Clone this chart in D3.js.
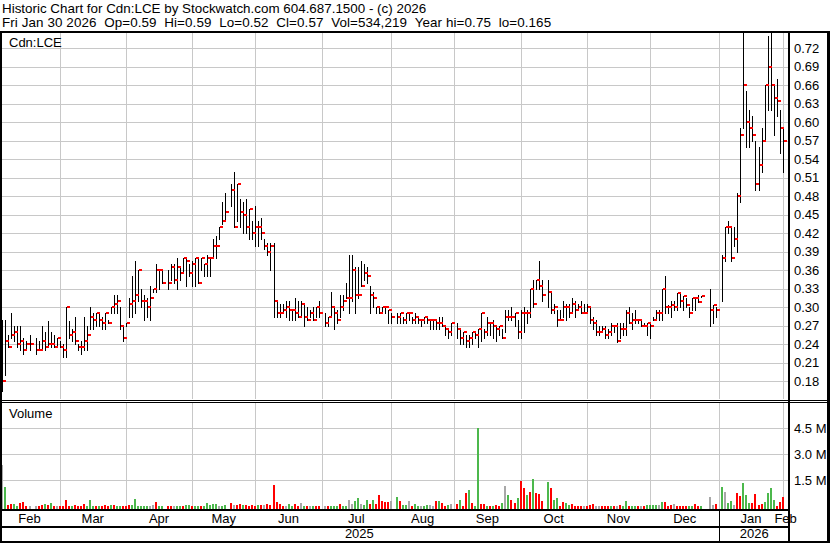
<!DOCTYPE html>
<html><head><meta charset="utf-8">
<script src="https://cdn.jsdelivr.net/npm/d3@7"></script>
<style>
html,body{margin:0;padding:0;background:#fff;}
svg{display:block;font-family:"Liberation Sans",Arial,sans-serif;}
</style></head><body>
<svg id="c" width="830" height="543"></svg>
<script>
// ---- categories: weekday index 0 = Mon Feb 3 2025 ... 259 = Fri Jan 30 2026 (null = no trading)
const monthLabels = ["Feb","Mar","Apr","May","Jun","Jul","Aug","Sep","Oct","Nov","Dec","Jan","Feb"];
const monthStartIdx = [-1,19,41,63,84,106,129,150,172,194,215,238,259];
const yearLabels = ["2025","2026"];
const yearStartIdx = [-1,238];
const priceTicks = [0.18,0.21,0.24,0.27,0.30,0.33,0.36,0.39,0.42,0.45,0.48,0.51,0.54,0.57,0.60,0.63,0.66,0.69,0.72];
const volumeTicks = [1.5e6,3.0e6,4.5e6];
const headerLine1 = "Historic Chart for Cdn:LCE by Stockwatch.com 604.687.1500 - (c) 2026";
const headerFields2 = ["Fri Jan 30 2026","Op=0.59","Hi=0.59","Lo=0.52","Cl=0.57","Vol=534,219","Year hi=0.75","lo=0.165"];

const high = [
 .28,.28,.255,.29,.27,.27,.27,.25,.245,.255,null,.25,.245,.27,.26,.277,.26,.255,.25,.245,
 .24,.30,.277,.265,.285,.24,.245,.285,.27,.30,.29,.29,.29,.285,.29,.28,.30,.32,.32,.30,.27,
 .275,.315,.35,.375,.36,.33,.32,.315,.335,.33,.37,.36,.36,null,.36,.37,.37,.38,.365,.38,.38,.37,
 .375,.38,.38,.38,.37,.385,.38,.41,.415,.43,.47,.485,null,.50,.52,.50,.475,.47,.475,.46,.44,.465,
 .44,.445,.41,.405,.405,.405,.31,.305,.305,.31,.31,.295,.315,.31,.31,.305,.30,.295,.30,.30,.31,
 null,.29,.285,.325,.30,.295,.32,.32,.34,.385,.385,.365,.365,.375,.37,.365,.335,.325,.30,.30,.30,.30,.295,
 .29,null,.29,.29,.285,.29,.29,.285,.29,.285,.28,.285,.285,.28,.28,.28,.285,.285,.27,.265,.275,
 null,.275,.265,.26,.255,.255,.26,.26,.265,.29,.265,.285,.275,.28,.27,.27,.265,.295,.295,.30,.29,.28,
 .295,.30,.295,.33,.345,.345,.375,.345,null,.345,.325,.305,.295,.295,.31,.305,.305,.315,.31,.305,.31,.305,.305,
 .30,.285,.28,.27,.27,.27,.265,.275,.27,.275,.275,.275,.296,.30,.29,.296,.28,.28,.275,.275,
 .275,.285,.296,.296,.33,.35,.304,.31,.31,.324,.324,.318,.315,.301,.315,.315,.32,.318,null,null,.329,.304,.30,
 null,.385,.43,.44,.43,.43,.485,.59,.75,.65,.62,.61,.57,.56,.59,.66,.74,.75,.66,.67,.62,.59
];
const low = [
 .165,.19,.235,.25,.245,.235,.23,.225,.23,.23,null,.225,.23,.23,.23,.235,.235,.235,.235,.235,
 .22,.22,.25,.245,.24,.23,.225,.23,.23,.265,.265,.27,.27,.265,.265,.275,.29,.29,.29,.265,.245,
 .27,.285,.285,.29,.31,.30,.28,.285,.28,.325,.325,.33,.34,null,.33,.345,.34,.33,.345,.355,.335,.35,
 .335,.335,.34,.36,.35,.35,.35,.38,.38,.41,.435,.44,null,.465,.43,.44,.43,.42,.42,.41,.41,.40,
 .40,.41,.395,.385,.36,.285,.285,.285,.29,.285,.28,.28,.28,.285,.285,.27,.28,.285,.28,.285,.285,
 null,.27,.27,.285,.265,.275,.285,.295,.315,.29,.31,.29,.315,.335,.345,.34,.29,.30,.29,.29,.29,.29,.275,
 .275,null,.275,.275,.275,.275,.28,.275,.275,.275,.27,.275,.275,.265,.265,.265,.265,.27,.255,.25,.255,
 null,.25,.24,.24,.235,.235,.24,.25,.235,.245,.25,.255,.255,.25,.245,.255,.25,.26,.28,.28,.27,.25,
 .25,.26,.275,.285,.30,.33,.33,.31,null,.30,.29,.29,.27,.28,.285,.28,.285,.29,.285,.295,.29,.29,.29,
 .275,.265,.255,.255,.26,.25,.25,.255,.26,.243,.25,.255,.255,.275,.265,.275,.275,.27,.27,.255,
 .25,.28,.28,.28,.28,.29,.29,.285,.296,.296,.30,.296,.301,.285,.296,.296,.309,.318,null,null,.27,.275,.285,
 null,.31,.375,.42,.375,.40,.39,.47,.59,.56,.56,.57,.49,.49,.52,.57,.62,.62,.58,.61,.55,.52
];
const close = [
 .18,.245,.235,.255,.26,.24,.245,.23,.24,.24,null,.23,.23,.245,.235,.24,.24,.235,.25,.235,
 .23,.30,.255,.26,.245,.235,.235,.245,.255,.285,.28,.29,.28,.275,.29,.275,.30,.305,.31,.27,.25,
 .275,.305,.31,.32,.36,.31,.31,.30,.315,.33,.36,.36,.34,null,.34,.365,.345,.365,.355,.38,.375,.355,
 .37,.38,.34,.38,.37,.38,.38,.40,.40,.43,.44,.455,null,.49,.43,.50,.455,.45,.43,.46,.42,.43,
 .43,.42,.40,.39,.40,.31,.29,.29,.295,.30,.295,.295,.29,.285,.305,.285,.28,.29,.28,.30,.29,
 null,.275,.285,.30,.29,.28,.30,.31,.315,.315,.36,.32,.32,.335,.355,.35,.32,.315,.30,.29,.30,.30,.295,
 .285,null,.285,.29,.28,.29,.29,.28,.285,.28,.28,.285,.28,.28,.28,.275,.275,.27,.265,.26,.275,
 null,.265,.25,.26,.245,.25,.26,.255,.265,.29,.26,.275,.275,.27,.265,.27,.25,.285,.285,.285,.29,.26,
 .29,.29,.29,.33,.305,.345,.335,.32,null,.325,.295,.30,.28,.28,.30,.30,.29,.305,.295,.30,.29,.29,.30,
 .28,.275,.26,.26,.265,.255,.26,.27,.27,.245,.265,.265,.29,.275,.28,.28,.28,.27,.27,.275,
 .27,.28,.29,.29,.329,.30,.30,.304,.30,.324,.31,.318,.304,.29,.315,.315,.309,.318,null,null,.295,.304,.295,
 null,.38,.43,.43,.38,.41,.48,.58,.66,.60,.59,.58,.50,.53,.57,.66,.69,.66,.64,.635,.59,.57
];
// volume in millions of shares
const volumeM = [
 2.39,1.14,.075,.11,.13,.03,.21,.25,.01,.01,null,.02,.01,.075,.13,.075,.19,.03,.02,.01,
 .005,.36,.02,.02,.075,.03,.03,.13,.03,.36,.02,.01,.005,.01,.075,.02,.075,.075,.03,.02,.01,
 .02,.075,.075,.42,.03,.005,.03,.005,.03,.075,.25,.005,.005,null,.02,.02,.02,.03,.03,.02,.075,.075,
 .005,.02,.03,.02,.03,.19,.05,.13,.16,.02,.03,.075,null,.19,.075,.075,.11,.075,.075,.03,.075,.03,
 .075,.075,.075,.11,.075,1.23,.23,.13,.01,.01,.11,.005,.11,.01,.17,.01,.005,.005,.01,.01,.01,
 null,.02,.01,.01,.01,.02,.13,.01,.02,.36,.13,.30,.48,.13,.075,.36,.13,.36,.13,.65,.30,.25,.25,
 .30,null,.54,.30,.075,.075,.30,.02,.13,.01,.01,.02,.075,.075,.02,.30,.30,.19,.01,.075,.13,
 null,.13,.36,.02,.77,.94,.19,.01,4.5,.13,.13,.01,.01,.02,.075,.02,.19,1.17,.65,.36,.19,.48,
 1.46,1.06,.65,.83,1.58,.77,.71,.30,null,1.39,1.06,.36,.48,.02,.25,.19,.075,.13,.01,.01,.02,.005,.02,
 .075,.13,.005,.01,.005,.02,.01,.02,.01,.01,.075,.01,.30,.01,.02,.01,.01,.01,.005,.075,
 .075,.075,.075,.075,.25,.25,.01,.075,.13,.01,.005,.01,.01,.01,.01,.13,.01,.005,null,null,.54,.075,.13,
 null,1.12,.83,.19,.30,.075,.77,.60,1.35,.65,.19,.19,.71,.075,.13,.25,.77,1.06,.36,.02,.25,.534
];
// volume colour code: u = up, d = down, n = unchanged
const volumeDir = (
 "nudduudddnn-ddududnddd" +
 "dudddduuududdduduuddd" +
 "uuuuuunnduuudd-uuduuduu" +
 "duuuuunuuud-dduddddudn" +
 "ddddddnuuddnudnuddd" +
 "-duuuduunnuunuududddd" +
 "d-uuduunduunuunnduddu" +
 "-ddudduduuddududdunudd" +
 "uddududdd-uduudduuddddnd" +
 "ddnndddudnduuduudndu" +
 "uuunudddndddduudduun--duu" +
 "-uundduuudddduuuudddd"
).split("");

// ---- layout
const W = 830, H = 543;
const L = 2, R = 788, priceTop = 33, priceBot = 399, volTop = 402, volBot = 509;
const svg = d3.select("#c");
svg.append("rect").attr("width", W).attr("height", H).attr("fill", "#fff");

const x = d3.scaleLinear().domain([0, 259]).range([2.4, 782.6]);
const yP = d3.scaleLinear().domain([0.18, 0.72]).range([381.3, 48.3]);
const yV = d3.scaleLinear().domain([0, 4.5e6]).range([506.3, 428.3]);

const idx = d3.range(high.length);
const gridColor = "#c8c8c8";

const defs = svg.append("defs");
defs.append("clipPath").attr("id", "pclip").append("rect")
  .attr("x", L).attr("y", priceTop).attr("width", R - L).attr("height", priceBot - priceTop);
defs.append("clipPath").attr("id", "vclip").append("rect")
  .attr("x", L).attr("y", volTop).attr("width", R - L).attr("height", volBot - volTop);

const crisp = v => Math.round(v) + 0.5;

// grid: price
const gP = svg.append("g").attr("clip-path", "url(#pclip)").attr("shape-rendering", "crispEdges");
gP.selectAll("line.h").data(priceTicks).join("line")
  .attr("x1", L).attr("x2", R).attr("y1", d => crisp(yP(d))).attr("y2", d => crisp(yP(d)))
  .attr("stroke", gridColor);
gP.selectAll("line.v").data(monthStartIdx.slice(1)).join("line").attr("class","v")
  .attr("x1", d => crisp(x(d))).attr("x2", d => crisp(x(d)))
  .attr("y1", priceTop).attr("y2", priceBot).attr("stroke", gridColor);

// grid: volume
const gV = svg.append("g").attr("clip-path", "url(#vclip)").attr("shape-rendering", "crispEdges");
gV.selectAll("line.h").data(volumeTicks).join("line")
  .attr("x1", L).attr("x2", R).attr("y1", d => crisp(yV(d))).attr("y2", d => crisp(yV(d)))
  .attr("stroke", gridColor);
gV.selectAll("line.v").data(monthStartIdx.slice(1)).join("line").attr("class","v")
  .attr("x1", d => crisp(x(d))).attr("x2", d => crisp(x(d)))
  .attr("y1", volTop).attr("y2", volBot).attr("stroke", gridColor);

// price bars (high-low line + red close tick)
const traded = idx.filter(i => high[i] != null);
gP.selectAll("line.bar").data(traded).join("line").attr("class", "bar")
  .attr("x1", i => crisp(x(i))).attr("x2", i => crisp(x(i)))
  .attr("y1", i => Math.round(yP(high[i])))
  .attr("y2", i => Math.max(Math.round(yP(low[i])), Math.round(yP(high[i])) + 1) + 1)
  .attr("stroke", "#000");
gP.selectAll("rect.cl").data(traded).join("rect").attr("class", "cl")
  .attr("x", i => Math.round(x(i)) + 1).attr("y", i => Math.round(yP(close[i])) - 1)
  .attr("width", 3).attr("height", 2).attr("fill", "#ff0000");

// volume bars
const volColor = { u: "#4cb84c", d: "#ff0000", n: "#a8a8a8" };
gV.selectAll("rect.vb").data(idx.filter(i => volumeM[i] != null)).join("rect").attr("class", "vb")
  .attr("x", i => Math.round(x(i)) - 1)
  .attr("y", i => Math.round(yV(volumeM[i] * 1e6)))
  .attr("width", 2)
  .attr("height", i => volBot - Math.round(yV(volumeM[i] * 1e6)))
  .attr("fill", i => volColor[volumeDir[i]] || volColor.n);

// axes
const fontSize = 13;
const pAxis = svg.append("g").attr("transform", `translate(${R + 4},0)`)
  .call(d3.axisRight(yP).tickValues(priceTicks).tickSize(0).tickPadding(2).tickFormat(d3.format(".2f")));
const vAxis = svg.append("g").attr("transform", `translate(${R + 4},0)`)
  .call(d3.axisRight(yV).tickValues(volumeTicks).tickSize(0).tickPadding(2).tickFormat(d => (d / 1e6).toFixed(1) + " M"));
[pAxis, vAxis].forEach(g => {
  g.select(".domain").remove();
  g.selectAll("text").attr("fill", "#000").style("font-size", fontSize + "px")
    .style("font-family", '"Liberation Sans",Arial,sans-serif');
});

// month labels
const monthCenters = monthStartIdx.map((s, i) => i < monthStartIdx.length - 1
  ? (x(s) + x(monthStartIdx[i + 1])) / 2 : x(s) + 3);
svg.append("g").selectAll("text").data(monthLabels).join("text")
  .attr("x", (d, i) => monthCenters[i]).attr("y", 523)
  .attr("text-anchor", "middle").style("font-size", fontSize + "px").text(d => d);
const yearEnds = [x(yearStartIdx[1]), R + 1];
svg.append("g").selectAll("text").data(yearLabels).join("text")
  .attr("x", (d, i) => (x(yearStartIdx[i]) + yearEnds[i]) / 2).attr("y", 537.5)
  .attr("text-anchor", "middle").style("font-size", fontSize + "px").text(d => d);

// header + panel labels
svg.append("text").attr("x", 2).attr("y", 12.5).style("font-size", "13.4px")
  .attr("xml:space", "preserve").text(headerLine1);
svg.append("text").attr("x", 2).attr("y", 26.5).style("font-size", "13.4px")
  .style("letter-spacing", "0.1px")
  .text(headerFields2.join("\u00a0\u00a0"));
svg.append("text").attr("x", 9).attr("y", 46.5).style("font-size", fontSize + "px").text("Cdn:LCE");
svg.append("text").attr("x", 9).attr("y", 417.5).style("font-size", fontSize + "px").text("Volume");

// frame lines
const frame = svg.append("g").attr("shape-rendering", "crispEdges").attr("fill", "#000");
frame.append("rect").attr("x", 0).attr("y", 31).attr("width", W).attr("height", 2);
frame.append("rect").attr("x", 0).attr("y", 33).attr("width", 2).attr("height", H - 33);
frame.append("rect").attr("x", R).attr("y", 33).attr("width", 2).attr("height", H - 33);
frame.append("rect").attr("x", 827).attr("y", 31).attr("width", 3).attr("height", H - 31);
frame.append("rect").attr("x", 0).attr("y", 400).attr("width", W).attr("height", 1);
frame.append("rect").attr("x", 0).attr("y", 402).attr("width", W).attr("height", 1);
frame.append("rect").attr("x", 0).attr("y", volBot).attr("width", R).attr("height", 2);
frame.append("rect").attr("x", 0).attr("y", 526).attr("width", R).attr("height", 2);
frame.append("rect").attr("x", 0).attr("y", 541).attr("width", W).attr("height", 2);
frame.append("rect").attr("x", Math.round(x(yearStartIdx[1]))).attr("y", 511).attr("width", 1).attr("height", 30);
</script>
</body></html>
